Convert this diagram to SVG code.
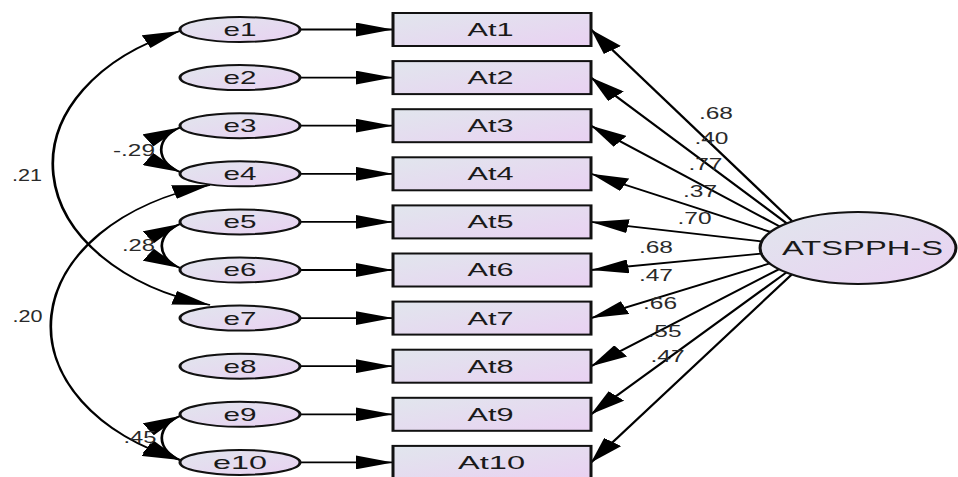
<svg xmlns="http://www.w3.org/2000/svg" width="958" height="477" viewBox="0 0 958 477">
<defs>
<linearGradient id="fill" x1="0" y1="0" x2="1" y2="1"><stop offset="0" stop-color="#e1e6ed"/><stop offset="1" stop-color="#e9d1f2"/></linearGradient>
<marker id="arr" viewBox="0 0 25 14" refX="25" refY="7" markerWidth="25" markerHeight="14" markerUnits="userSpaceOnUse" orient="auto-start-reverse"><path d="M0,0 L25,7 L0,14 z" fill="#000"/></marker>
</defs>
<style>
.node{fill:url(#fill);stroke:#111;stroke-width:2}
.lbl{font-family:"Liberation Sans",Arial,sans-serif;fill:#1a1a1a;text-anchor:middle}
.num{font-family:"Liberation Sans",Arial,sans-serif;fill:#2a2a2a;font-size:16.5px;text-anchor:middle}
.c{fill:none;stroke:#000;stroke-width:1.8;marker-end:url(#arr)}
.cov{fill:none;stroke:#000;stroke-width:1.8;marker-start:url(#arr);marker-end:url(#arr)}
</style>
<g transform="scale(1.5 1)">
<g id="connectors">
<path class="c" d="M200,29.5 L262,29.5"/>
<path class="c" d="M200,77.6 L262,77.6"/>
<path class="c" d="M200,125.7 L262,125.7"/>
<path class="c" d="M200,173.8 L262,173.8"/>
<path class="c" d="M200,221.9 L262,221.9"/>
<path class="c" d="M200,270 L262,270"/>
<path class="c" d="M200,318.1 L262,318.1"/>
<path class="c" d="M200,366.2 L262,366.2"/>
<path class="c" d="M200,414.3 L262,414.3"/>
<path class="c" d="M200,462.4 L262,462.4"/>
<path class="c" d="M528,221 L394,29.5"/>
<path class="c" d="M524.5,223.3 L394,77.6"/>
<path class="c" d="M519.7,226.4 L394,125.7"/>
<path class="c" d="M513.5,231.9 L394,173.8"/>
<path class="c" d="M507.7,241.3 L394,221.9"/>
<path class="c" d="M507.4,253.7 L394,270"/>
<path class="c" d="M513,263.5 L394,318.1"/>
<path class="c" d="M519.3,269.2 L394,366.2"/>
<path class="c" d="M524.2,272.5 L394,414.3"/>
<path class="c" d="M527.8,274.5 L394,462.4"/>
<path class="cov" d="M120,31 A147,147 0 0,0 140,305"/>
<path class="cov" d="M140,185 A147,147 0 0,0 120,460"/>
<path class="cov" d="M120,127.5 A26,26 0 0,0 120,172"/>
<path class="cov" d="M120,224 A26,26 0 0,0 120,268"/>
<path class="cov" d="M120,416 A26,26 0 0,0 120,460"/>
<text class="num" x="477.3" y="119" textLength="22.7" lengthAdjust="spacingAndGlyphs">.68</text>
<text class="num" x="474.3" y="144" textLength="22.7" lengthAdjust="spacingAndGlyphs">.40</text>
<text class="num" x="470.3" y="170" textLength="22.7" lengthAdjust="spacingAndGlyphs">.77</text>
<text class="num" x="466.7" y="197" textLength="22.7" lengthAdjust="spacingAndGlyphs">.37</text>
<text class="num" x="463" y="224" textLength="22.7" lengthAdjust="spacingAndGlyphs">.70</text>
<text class="num" x="437.3" y="253" textLength="22.7" lengthAdjust="spacingAndGlyphs">.68</text>
<text class="num" x="437.3" y="281" textLength="22.7" lengthAdjust="spacingAndGlyphs">.47</text>
<text class="num" x="440" y="309" textLength="22.7" lengthAdjust="spacingAndGlyphs">.66</text>
<text class="num" x="443" y="337" textLength="22.7" lengthAdjust="spacingAndGlyphs">.55</text>
<text class="num" x="445" y="362" textLength="22.7" lengthAdjust="spacingAndGlyphs">.47</text>
<text class="num" x="18" y="181" textLength="20" lengthAdjust="spacingAndGlyphs">.21</text>
<text class="num" x="18.3" y="322" textLength="20" lengthAdjust="spacingAndGlyphs">.20</text>
<text class="num" x="89.3" y="156" textLength="28" lengthAdjust="spacingAndGlyphs">-.29</text>
<text class="num" x="92.3" y="251" textLength="22" lengthAdjust="spacingAndGlyphs">.28</text>
<text class="num" x="93.3" y="443" textLength="22" lengthAdjust="spacingAndGlyphs">.45</text>
</g>
<g id="e1"><ellipse class="node" cx="160" cy="29.5" rx="40" ry="12.5"/><text class="lbl" x="160" y="36" font-size="18" textLength="22" lengthAdjust="spacingAndGlyphs">e1</text></g>
<g id="e2"><ellipse class="node" cx="160" cy="77.6" rx="40" ry="12.5"/><text class="lbl" x="160" y="84.1" font-size="18" textLength="22" lengthAdjust="spacingAndGlyphs">e2</text></g>
<g id="e3"><ellipse class="node" cx="160" cy="125.7" rx="40" ry="12.5"/><text class="lbl" x="160" y="132.2" font-size="18" textLength="22" lengthAdjust="spacingAndGlyphs">e3</text></g>
<g id="e4"><ellipse class="node" cx="160" cy="173.8" rx="40" ry="12.5"/><text class="lbl" x="160" y="180.3" font-size="18" textLength="22" lengthAdjust="spacingAndGlyphs">e4</text></g>
<g id="e5"><ellipse class="node" cx="160" cy="221.9" rx="40" ry="12.5"/><text class="lbl" x="160" y="228.4" font-size="18" textLength="22" lengthAdjust="spacingAndGlyphs">e5</text></g>
<g id="e6"><ellipse class="node" cx="160" cy="270" rx="40" ry="12.5"/><text class="lbl" x="160" y="276.5" font-size="18" textLength="22" lengthAdjust="spacingAndGlyphs">e6</text></g>
<g id="e7"><ellipse class="node" cx="160" cy="318.1" rx="40" ry="12.5"/><text class="lbl" x="160" y="324.6" font-size="18" textLength="22" lengthAdjust="spacingAndGlyphs">e7</text></g>
<g id="e8"><ellipse class="node" cx="160" cy="366.2" rx="40" ry="12.5"/><text class="lbl" x="160" y="372.7" font-size="18" textLength="22" lengthAdjust="spacingAndGlyphs">e8</text></g>
<g id="e9"><ellipse class="node" cx="160" cy="414.3" rx="40" ry="12.5"/><text class="lbl" x="160" y="420.8" font-size="18" textLength="22" lengthAdjust="spacingAndGlyphs">e9</text></g>
<g id="e10"><ellipse class="node" cx="160" cy="462.4" rx="40" ry="12.5"/><text class="lbl" x="160" y="468.9" font-size="18" textLength="36" lengthAdjust="spacingAndGlyphs">e10</text></g>
<g id="At1"><rect class="node" x="262" y="13" width="132" height="33"/><text class="lbl" x="327" y="36" font-size="18.5" textLength="30.7" lengthAdjust="spacingAndGlyphs">At1</text></g>
<g id="At2"><rect class="node" x="262" y="61.1" width="132" height="33"/><text class="lbl" x="327" y="84.1" font-size="18.5" textLength="30.7" lengthAdjust="spacingAndGlyphs">At2</text></g>
<g id="At3"><rect class="node" x="262" y="109.2" width="132" height="33"/><text class="lbl" x="327" y="132.2" font-size="18.5" textLength="30.7" lengthAdjust="spacingAndGlyphs">At3</text></g>
<g id="At4"><rect class="node" x="262" y="157.3" width="132" height="33"/><text class="lbl" x="327" y="180.3" font-size="18.5" textLength="30.7" lengthAdjust="spacingAndGlyphs">At4</text></g>
<g id="At5"><rect class="node" x="262" y="205.4" width="132" height="33"/><text class="lbl" x="327" y="228.4" font-size="18.5" textLength="30.7" lengthAdjust="spacingAndGlyphs">At5</text></g>
<g id="At6"><rect class="node" x="262" y="253.5" width="132" height="33"/><text class="lbl" x="327" y="276.5" font-size="18.5" textLength="30.7" lengthAdjust="spacingAndGlyphs">At6</text></g>
<g id="At7"><rect class="node" x="262" y="301.6" width="132" height="33"/><text class="lbl" x="327" y="324.6" font-size="18.5" textLength="30.7" lengthAdjust="spacingAndGlyphs">At7</text></g>
<g id="At8"><rect class="node" x="262" y="349.7" width="132" height="33"/><text class="lbl" x="327" y="372.7" font-size="18.5" textLength="30.7" lengthAdjust="spacingAndGlyphs">At8</text></g>
<g id="At9"><rect class="node" x="262" y="397.8" width="132" height="33"/><text class="lbl" x="327" y="420.8" font-size="18.5" textLength="30.7" lengthAdjust="spacingAndGlyphs">At9</text></g>
<g id="At10"><rect class="node" x="262" y="445.9" width="132" height="33"/><text class="lbl" x="327.7" y="468.9" font-size="18.5" textLength="44.7" lengthAdjust="spacingAndGlyphs">At10</text></g>
<g id="ATSPPH-S"><ellipse class="node" cx="572" cy="248" rx="65.3" ry="36"/><text class="lbl" x="575" y="255.5" font-size="21" textLength="107.3" lengthAdjust="spacingAndGlyphs">ATSPPH-S</text></g>
</g>
</svg>
